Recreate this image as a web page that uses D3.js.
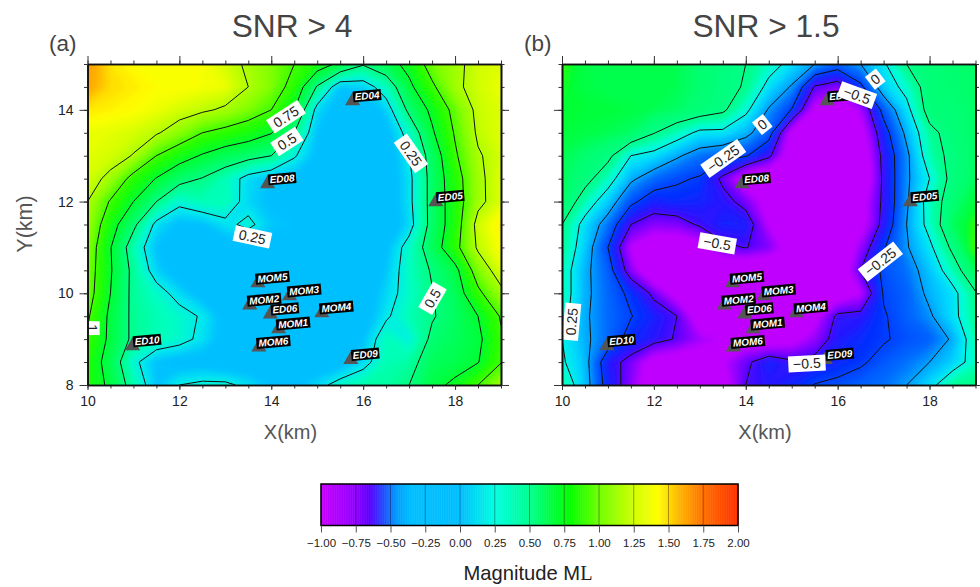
<!DOCTYPE html>
<html>
<head>
<meta charset="utf-8">
<script src="https://cdn.jsdelivr.net/npm/d3@7"></script>
<style>
	body { margin: 0; background: #fff; }
	svg { display: block; font-family: "Liberation Sans", sans-serif; }
	.tick text { fill: #222; }
</style>
</head>
<body>
<svg id="chart" width="980" height="587"></svg>
<script>
// grid nodes every 0.5 km, rows run from Y=15 down to Y=8
const gridX = [10, 10.5, 11, 11.5, 12, 12.5, 13, 13.5, 14, 14.5, 15, 15.5, 16, 16.5, 17, 17.5, 18, 18.5, 19];
const gridY = [15, 14.5, 14, 13.5, 13, 12.5, 12, 11.5, 11, 10.5, 10, 9.5, 9, 8.5, 8];

const magA = [
	[1.62, 1.46, 1.42, 1.42, 1.42, 1.4, 1.32, 1.22, 1.12, 1.0, 0.87, 0.7, 0.52, 0.65, 0.82, 1.1, 1.2, 1.32, 1.35],
	[1.58, 1.48, 1.45, 1.42, 1.42, 1.4, 1.38, 1.25, 1.12, 0.92, 0.48, 0.12, 0.15, 0.35, 0.7, 0.96, 1.21, 1.32, 1.38],
	[1.46, 1.44, 1.42, 1.38, 1.33, 1.28, 1.22, 1.12, 1.0, 0.75, 0.18, 0.05, 0.02, 0.15, 0.55, 0.8, 1.07, 1.3, 1.35],
	[1.38, 1.36, 1.33, 1.27, 1.15, 1.0, 0.93, 0.86, 0.76, 0.5, 0.1, 0, 0, 0.05, 0.33, 0.72, 1.02, 1.28, 1.36],
	[1.36, 1.33, 1.24, 1.0, 0.85, 0.73, 0.63, 0.57, 0.5, 0.27, 0.08, 0, 0, 0, 0.24, 0.6, 0.97, 1.23, 1.33],
	[1.33, 1.2, 0.92, 0.74, 0.57, 0.49, 0.37, 0.18, 0.1, 0.08, 0.03, 0, 0, 0, 0.2, 0.58, 0.9, 1.2, 1.36],
	[1.25, 0.98, 0.75, 0.5, 0.3, 0.38, 0.38, 0.17, 0.08, 0.05, 0.02, 0, 0, 0, 0.2, 0.58, 0.88, 1.2, 1.35],
	[1.2, 0.85, 0.55, 0.2, 0.08, 0.1, 0.2, 0.3, 0.13, 0.1, 0.06, 0, 0, 0, 0.17, 0.58, 0.88, 1.32, 1.45],
	[1.15, 0.76, 0.38, 0.1, 0.02, 0.02, 0.03, 0.05, 0.05, 0.1, 0.05, 0, 0, 0.08, 0.33, 0.62, 0.93, 1.28, 1.42],
	[1.12, 0.77, 0.44, 0.16, 0.02, 0, 0, 0, 0, 0, 0, 0, 0, 0.12, 0.35, 0.52, 0.68, 1.12, 1.35],
	[1.1, 0.75, 0.44, 0.33, 0.18, 0.05, 0, 0, 0, 0, 0, 0, 0, 0.17, 0.33, 0.49, 0.62, 0.95, 1.2],
	[1.03, 0.7, 0.45, 0.38, 0.32, 0.23, 0.05, 0, 0, 0, 0, 0, 0.02, 0.22, 0.38, 0.48, 0.6, 0.75, 1.02],
	[0.97, 0.7, 0.45, 0.38, 0.32, 0.2, 0.05, 0, 0, 0, 0, 0, 0.1, 0.37, 0.27, 0.55, 0.62, 0.7, 0.97],
	[0.9, 0.65, 0.3, 0.1, 0.05, 0.05, 0, 0, 0, 0, 0, 0.03, 0.18, 0.38, 0.42, 0.62, 0.65, 0.74, 0.99],
	[0.9, 0.7, 0.4, 0.12, 0.25, 0.29, 0.29, 0.2, 0.1, 0.08, 0.18, 0.33, 0.4, 0.42, 0.5, 0.68, 0.8, 1.0, 1.2]
];

const magB = [
	[0.85, 0.75, 0.72, 0.72, 0.75, 0.72, 0.65, 0.57, 0.5, 0.35, 0.18, 0, -0.13, 0, 0.22, 0.5, 0.63, 0.65, 0.68],
	[0.82, 0.75, 0.72, 0.72, 0.72, 0.72, 0.65, 0.57, 0.48, 0.18, -0.02, -0.52, -0.62, -0.3, 0.12, 0.32, 0.62, 0.65, 0.68],
	[0.8, 0.78, 0.78, 0.75, 0.72, 0.68, 0.62, 0.54, 0.3, -0.02, -0.26, -0.8, -0.9, -0.7, -0.18, 0.18, 0.6, 0.62, 0.68],
	[0.78, 0.75, 0.72, 0.68, 0.51, 0.36, 0.2, 0.2, 0.06, -0.15, -0.82, -0.95, -1, -0.85, -0.35, 0.05, 0.43, 0.6, 0.68],
	[0.72, 0.65, 0.56, 0.25, 0.18, 0.03, -0.1, -0.17, -0.23, -0.45, -0.9, -1, -1, -0.95, -0.43, -0.05, 0.38, 0.57, 0.68],
	[0.7, 0.58, 0.35, 0.04, -0.12, -0.22, -0.27, -0.55, -0.9, -1, -1, -1, -1, -1, -0.45, -0.04, 0.25, 0.58, 0.7],
	[0.68, 0.38, 0.12, -0.2, -0.37, -0.33, -0.36, -0.42, -0.58, -0.85, -1, -1, -1, -0.85, -0.45, -0.03, 0.35, 0.63, 0.78],
	[0.5, 0.17, -0.1, -0.5, -0.62, -0.6, -0.47, -0.37, -0.37, -0.75, -1, -1, -1, -0.85, -0.42, 0, 0.33, 0.7, 0.85],
	[0.45, 0.12, -0.25, -0.75, -0.9, -0.9, -0.85, -0.55, -0.49, -0.6, -0.85, -1, -1, -0.65, -0.27, -0.02, 0.2, 0.55, 0.9],
	[0.38, 0.05, -0.15, -0.62, -1, -1, -1, -1, -1, -1, -1, -1, -1, -0.5, -0.2, -0.1, 0.1, 0.37, 0.72],
	[0.38, 0.05, -0.13, -0.3, -0.55, -0.85, -1, -1, -1, -1, -1, -1, -0.9, -0.75, -0.23, -0.15, 0.05, 0.18, 0.48],
	[0.34, 0.03, -0.12, -0.24, -0.38, -0.5, -0.9, -1, -1, -1, -1, -0.82, -0.45, -0.43, -0.27, -0.15, -0.03, 0.18, 0.45],
	[0.25, 0.04, -0.12, -0.33, -0.42, -0.52, -0.68, -0.75, -0.85, -0.9, -0.82, -0.65, -0.4, -0.33, -0.27, -0.2, -0.15, 0.03, 0.4],
	[0.28, 0.08, -0.4, -0.58, -0.85, -0.9, -0.85, -0.75, -0.55, -0.36, -0.47, -0.43, -0.35, -0.28, -0.18, -0.1, 0, 0.13, 0.35],
	[0.42, 0.1, -0.35, -0.62, -0.95, -1, -1, -0.85, -0.5, -0.42, -0.35, -0.24, -0.2, -0.15, -0.1, 0, 0.17, 0.44, 0.5]
];

const levelsA = [0.25, 0.5, 0.75, 1, 1.25];
const levelsB = [-0.5, -0.25, 0, 0.25, 0.5];

const stationNames = ["MOM5", "MOM3", "MOM2", "ED06", "MOM4", "MOM1", "MOM6", "ED10", "ED09", "ED04", "ED08", "ED05"];
const stationX = [13.71, 14.40, 13.53, 13.98, 15.10, 14.16, 13.73, 10.98, 15.73, 15.77, 13.92, 17.58];
const stationY = [10.13, 9.85, 9.65, 9.45, 9.48, 9.13, 8.73, 8.76, 8.46, 14.10, 12.29, 11.90];

// contour label: text, x km, y km, angle
const labelsA = [
	["0.75", 14.32, 13.85, -33], ["0.5", 14.34, 13.31, -33], ["0.25", 17.04, 13.05, 55],
	["0.25", 13.59, 11.23, 12], ["0.5", 17.51, 9.89, -60], ["1", 10.09, 9.24, 90]
];
const labelsB = [
	["0", 16.82, 14.67, -38], ["\u22120.5", 16.42, 14.32, 20], ["0", 14.36, 13.68, -38],
	["\u22120.25", 13.51, 12.94, -35], ["\u22120.5", 13.38, 11.09, 10], ["\u22120.25", 16.93, 10.69, -38],
	["0.25", 10.21, 9.38, -85], ["\u22120.5", 15.33, 8.47, -3]
];

// color bar stops, and the tones the two maps really show
const barDomain = [-1, -0.75, -0.65, -0.55, -0.45, -0.35, 0, 0.25, 0.5, 0.78, 1, 1.25, 1.42, 1.55, 1.75, 2];
const barColors = ["#c800ff", "#9000ff", "#5a00ff", "#2050ff", "#00a0ff", "#00bfff", "#00bfff", "#00ffe0", "#00ff90", "#00ff00", "#70ff00", "#d0ff00", "#ffff00", "#ffc000", "#ff7000", "#ff3000"];
const domainA = [0.1, 0.22, 0.35, 0.5, 0.75, 0.9, 1, 1.12, 1.25, 1.42, 1.55, 1.7];
const colorsA = ["#00bfff", "#00e8f0", "#00ffc0", "#00ff80", "#00ff30", "#20ff00", "#40ff00", "#80ff00", "#b0ff00", "#ffff00", "#ffb000", "#ff8000"];
const domainB = [-0.75, -0.55, -0.45, -0.3, -0.1, 0, 0.15, 0.3, 0.45, 0.65, 0.8, 0.85];
const colorsB = ["#c000ff", "#6a00ff", "#3010ff", "#0030ff", "#0070ff", "#00a0ff", "#00d8ff", "#00ffd8", "#00ff90", "#00ff70", "#00ff30", "#30ff00"];
const barTicks = [-1, -0.75, -0.5, -0.25, 0, 0.25, 0.5, 0.75, 1, 1.25, 1.5, 1.75, 2];

const svg = d3.select("#chart");
const barColor = d3.scaleLinear().domain(barDomain).range(barColors).clamp(true);
const colorA = d3.scaleLinear().domain(domainA).range(colorsA).clamp(true);
const colorB = d3.scaleLinear().domain(domainB).range(colorsB).clamp(true);

// softens the facets of the grid, the source map is a smooth image
svg.append("filter").attr("id", "soft")
	.append("feGaussianBlur").attr("stdDeviation", 2.5);

function drawPanel(left, id, title, letter, grid, levels, labels, color, titleX, letterX, showY) {
	const x = d3.scaleLinear().domain([10, 19]).range([left, left + 413.5]);
	const y = d3.scaleLinear().domain([8, 15]).range([385, 64]);
	const g = svg.append("g");

	g.append("clipPath").attr("id", id).append("rect")
		.attr("x", left).attr("y", 64).attr("width", 413.5).attr("height", 321);

	// d3.contours puts value i at i + 0.5
	const gx = d3.scaleLinear().domain([0.5, gridX.length - 0.5]).range([x(gridX[0]), x(gridX[gridX.length - 1])]);
	const gy = d3.scaleLinear().domain([0.5, gridY.length - 0.5]).range([y(gridY[0]), y(gridY[gridY.length - 1])]);
	const path = d3.geoPath(d3.geoTransform({
		point: function(a, b) { this.stream.point(gx(a), gy(b)); }
	}));
	const contours = d3.contours().size([gridX.length, gridY.length]);
	const flat = grid.flat();

	const fine = d3.range(-1.2, 2.02, 0.02);
	const map = g.append("g").attr("clip-path", "url(#" + id + ")");
	map.append("g").attr("filter", "url(#soft)")
		.selectAll("path.fill")
		.data(contours.thresholds(fine)(flat))
		.enter().append("path")
			.attr("class", "fill")
			.attr("d", path)
			.attr("fill", function(d) { return color(d.value + 0.01) });

	map.selectAll("path.line")
		.data(contours.thresholds(levels)(flat))
		.enter().append("path")
			.attr("class", "line")
			.attr("d", path)
			.attr("fill", "none")
			.attr("stroke", "#111")
			.attr("stroke-width", 1);

	// stations
	const st = map.selectAll("g.station")
		.data(stationNames)
		.enter().append("g")
			.attr("class", "station")
			.attr("transform", function(d, i) { return "translate(" + x(stationX[i]) + "," + y(stationY[i]) + ")" });
	st.append("path")
		.attr("d", d3.symbol(d3.symbolTriangle).size(98))
		.attr("transform", "translate(0,-4.3)")
		.attr("fill", "#555");
	const tag = st.append("g").attr("transform", "translate(14.5,-9.6) rotate(-5)");
	tag.append("rect")
		.attr("y", -5.5)
		.attr("height", 11)
		.attr("width", function(d, i) { return stationNames[i].indexOf("MOM") == 0 ? 34 : 28 })
		.attr("x", function(d, i) { return stationNames[i].indexOf("MOM") == 0 ? -17 : -14 })
		.attr("fill", "#000");
	tag.append("text")
		.text(function(d) { return d })
		.attr("text-anchor", "middle")
		.attr("y", 3.6)
		.attr("fill", "#fff")
		.attr("font-size", 10)
		.attr("font-style", "italic")
		.attr("font-weight", "bold");

	// contour labels
	const lab = map.selectAll("g.clabel")
		.data(labels)
		.enter().append("g")
			.attr("class", "clabel")
			.attr("transform", function(d) { return "translate(" + x(d[1]) + "," + y(d[2]) + ") rotate(" + d[3] + ")" });
	lab.append("rect")
		.attr("x", function(d) { return -(d[0].length * 3.9 + 3) })
		.attr("width", function(d) { return 2 * (d[0].length * 3.9 + 3) })
		.attr("y", -8)
		.attr("height", 16)
		.attr("fill", "#fff");
	lab.append("text")
		.text(function(d) { return d[0] })
		.attr("text-anchor", "middle")
		.attr("y", 5)
		.attr("font-size", 14)
		.attr("fill", "#222");

	// axes
	const minor = d3.range(10, 19.01, 0.5);
	const minorY = d3.range(8, 15.01, 0.5);
	const major = [10, 12, 14, 16, 18];
	const majorY = [8, 10, 12, 14];

	function axis(gen, scale, vals, size, tr, fmt) {
		const a = g.append("g").attr("transform", tr)
			.call(gen(scale).tickValues(vals).tickSize(size).tickSizeOuter(0).tickPadding(6).tickFormat(fmt || ""));
		a.select(".domain").attr("stroke", "#111").attr("stroke-width", 1.6);
		a.selectAll(".tick line").attr("stroke", "#333");
		a.selectAll(".tick text").attr("font-size", 14).attr("font-family", "Liberation Sans");
		return a;
	}
	const f = d3.format("d");
	axis(d3.axisBottom, x, minor, 3.5, "translate(0,385)");
	axis(d3.axisBottom, x, major, 5, "translate(0,385)", f);
	axis(d3.axisTop, x, minor, 3.5, "translate(0,64)");
	axis(d3.axisTop, x, major, 8, "translate(0,64)");
	axis(d3.axisLeft, y, minorY, 3.5, "translate(" + left + ",0)");
	axis(d3.axisLeft, y, majorY, 8, "translate(" + left + ",0)", showY ? f : "");
	axis(d3.axisRight, y, minorY, 3.5, "translate(" + (left + 413.5) + ",0)");
	axis(d3.axisRight, y, majorY, 8, "translate(" + (left + 413.5) + ",0)");

	g.append("text").text(title)
		.attr("x", titleX).attr("y", 37)
		.attr("text-anchor", "middle").attr("font-size", 31.7).attr("fill", "#444");
	g.append("text").text(letter)
		.attr("x", letterX).attr("y", 51)
		.attr("font-size", 22.5).attr("fill", "#444");
	g.append("text").text("X(km)")
		.attr("x", left + 203).attr("y", 439)
		.attr("text-anchor", "middle").attr("font-size", 20).attr("fill", "#555");
}

drawPanel(87.5, "clipA", "SNR > 4", "(a)", magA, levelsA, labelsA, colorA, 292, 49, true);
drawPanel(562, "clipB", "SNR > 1.5", "(b)", magB, levelsB, labelsB, colorB, 766, 524, false);

svg.append("g").attr("transform", "translate(32,224)")
	.append("text").text("Y(km)")
		.attr("transform", "rotate(-90)")
		.attr("text-anchor", "middle")
		.attr("font-size", 21.5)
		.attr("fill", "#555");

// Color bar
const barX = d3.scaleLinear().domain([-1, 2]).range([321, 738]);
const bar = svg.append("g");
bar.selectAll("rect.step")
	.data(d3.range(-1, 2, 0.005))
	.enter().append("rect")
		.attr("class", "step")
		.attr("x", function(d) { return barX(d) })
		.attr("width", barX(0.005) - barX(0) + 0.5)
		.attr("y", 484)
		.attr("height", 41.5)
		.attr("fill", function(d) { return barColor(d) });
bar.selectAll("line.sep")
	.data(barTicks)
	.enter().append("line")
		.attr("class", "sep")
		.attr("x1", function(d) { return barX(d) })
		.attr("x2", function(d) { return barX(d) })
		.attr("y1", 484).attr("y2", 525.5)
		.attr("stroke", "#000").attr("stroke-opacity", 0.35);
bar.append("rect")
	.attr("x", barX(-1)).attr("y", 484).attr("width", barX(2) - barX(-1)).attr("height", 41.5)
	.attr("fill", "none").attr("stroke", "#000").attr("stroke-width", 1.5);
const barAxis = bar.append("g").attr("transform", "translate(0,525.5)")
	.call(d3.axisBottom(barX).tickValues(barTicks).tickSize(7).tickSizeOuter(0).tickPadding(6)
		.tickFormat(function(d) { return d3.format(".2f")(d).replace("-", "\u2212") }));
barAxis.select(".domain").remove();
barAxis.selectAll(".tick line").attr("stroke", "#555");
barAxis.selectAll(".tick text").attr("font-size", 11.5).attr("font-family", "Liberation Sans");

const barTitle = svg.append("text")
	.attr("x", 528).attr("y", 580)
	.attr("text-anchor", "middle").attr("font-size", 20.2).attr("fill", "#222");
barTitle.append("tspan").text("Magnitude M");
barTitle.append("tspan").text("L").attr("font-family", "Liberation Serif");
</script>
</body>
</html>
